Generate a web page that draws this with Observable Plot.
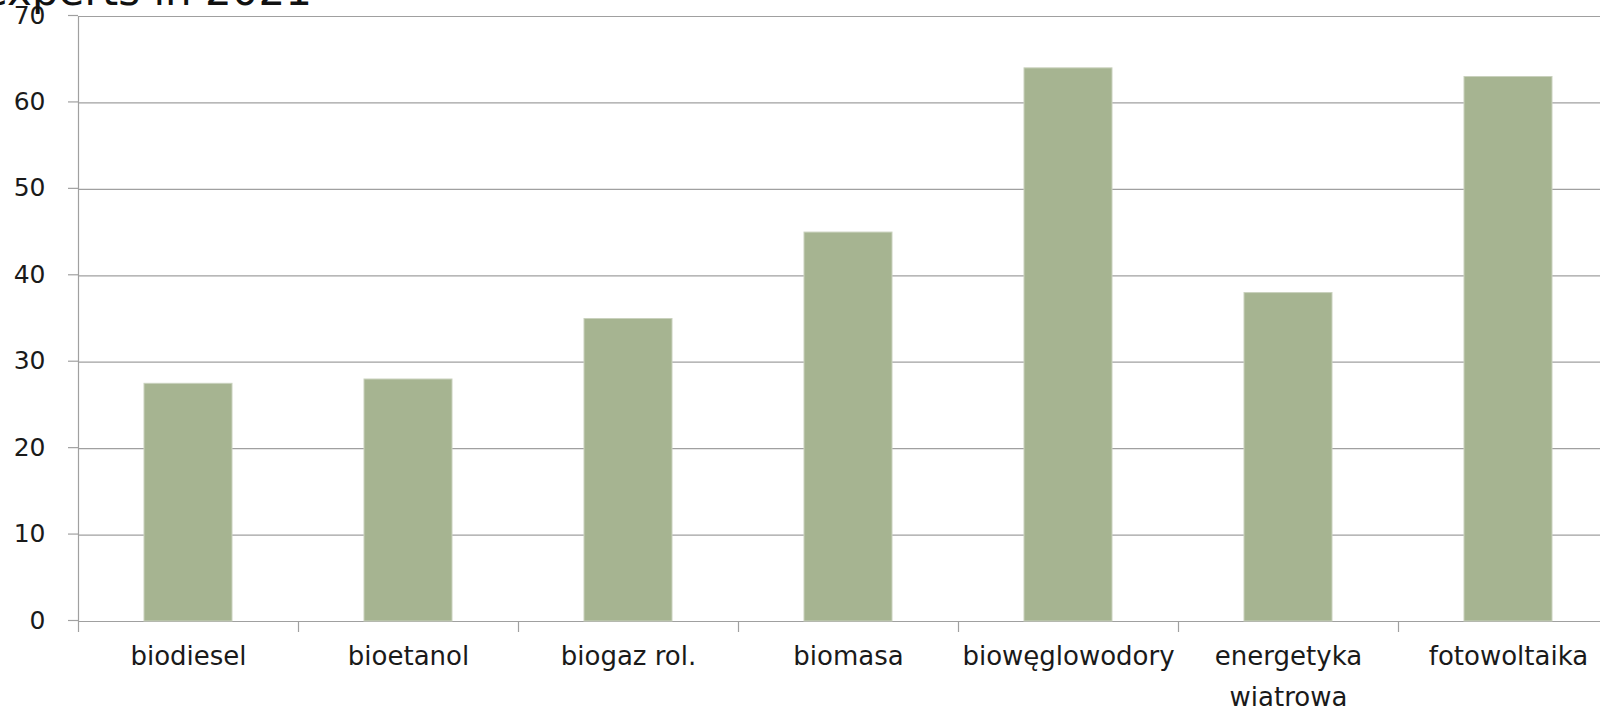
<!DOCTYPE html>
<html>
<head>
<meta charset="utf-8">
<script src="https://cdn.jsdelivr.net/npm/d3@7"></script>
<script src="https://cdn.jsdelivr.net/npm/@observablehq/plot@0.6"></script>
<style>
  html, body { margin: 0; padding: 0; background: #fff; overflow: hidden; width: 1600px; height: 714px; }
  #wrap { position: relative; width: 1600px; height: 714px; overflow: hidden; }
  #title { position: absolute; left: -18px; top: -30px; font-family: "DejaVu Sans", sans-serif; font-size: 42px; line-height: 1; color: #111; white-space: nowrap; z-index: 2; }
  #chart { position: absolute; left: 0; top: 0; width: 1618px; }
  #chart svg { max-width: none !important; }
</style>
</head>
<body>
<div id="wrap">
  <div id="chart"></div>
  <div id="title">experts in 2021</div>
</div>
<script>
const categories = ["biodiesel", "bioetanol", "biogaz rol.", "biomasa", "biowęglowodory", "energetyka wiatrowa", "fotowoltaika"];
const values = [27.5, 28, 35, 45, 64, 38, 63];
const yTicks = [0, 10, 20, 30, 40, 50, 60, 70];
const xLabels = ["biodiesel", "bioetanol", "biogaz rol.", "biomasa", "biowęglowodory", "energetyka\nwiatrowa", "fotowoltaika"];

const data = categories.map((c, i) => ({category: c, value: values[i]}));
const labelOf = new Map(categories.map((c, i) => [c, xLabels[i]]));

const width = 1618, marginLeft = 78, marginRight = 0;
const step = (width - marginLeft - marginRight) / categories.length;
const grid = "#a0a0a0";
const font = "DejaVu Sans, sans-serif";

const chart = Plot.plot({
  width,
  height: 714,
  marginLeft,
  marginRight,
  marginTop: 16,
  marginBottom: 93,
  style: {fontFamily: font, color: "#1a1a1a", background: "transparent", overflow: "visible", maxWidth: "none"},
  x: {domain: categories, paddingInner: 0.6, paddingOuter: 0.3, label: null},
  y: {domain: [0, 70], label: null},
  marks: [
    Plot.ruleY(yTicks, {stroke: grid, strokeWidth: 1.2}),
    Plot.axisY({ticks: yTicks, tickSize: 10, tickPadding: 23, stroke: grid, strokeWidth: 1.2, fontSize: 25, fill: "#1a1a1a", dy: -1, label: null}),
    Plot.barY(data, {x: "category", y: "value", fill: "#a6b491", stroke: "#c9d1bd", strokeWidth: 1}),
    Plot.ruleX([categories[0]], {dx: -step / 2, stroke: grid, strokeWidth: 1.2}),
    Plot.axisX({tickSize: 11, tickFormat: () => "", dx: -step / 2, stroke: grid, strokeWidth: 1.2, label: null}),
    Plot.axisX({tickSize: 0, tickPadding: 14, tickFormat: d => labelOf.get(d), fontSize: 26, lineHeight: 1.58, fill: "#1a1a1a", label: null})
  ]
});
document.getElementById("chart").appendChild(chart);
</script>
</body>
</html>
